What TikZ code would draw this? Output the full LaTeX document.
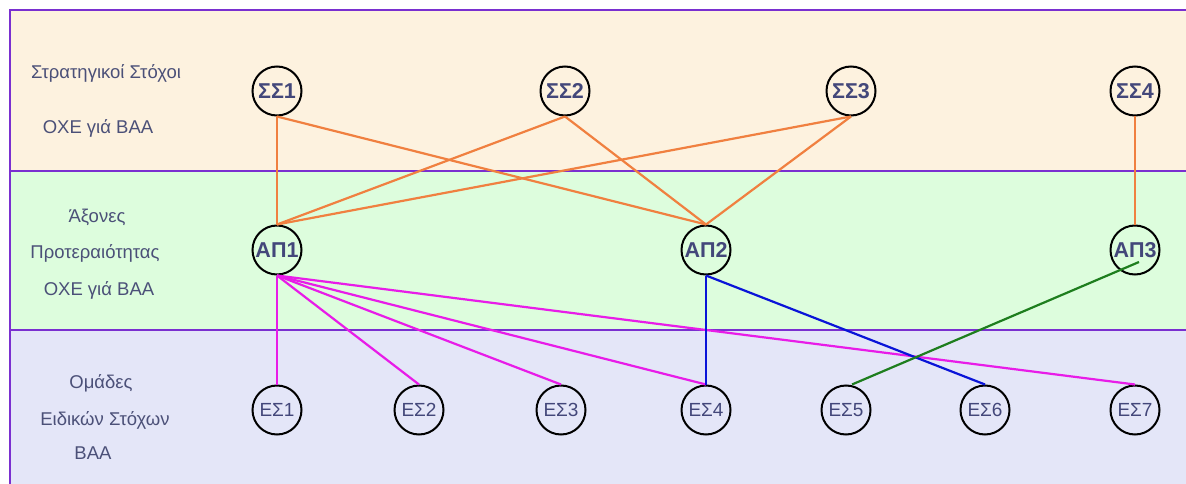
\documentclass[tikz,border=0pt]{standalone}
\usepackage{fontspec}
\setmainfont{Liberation Sans}
\definecolor{bandA}{HTML}{FDF2DF}
\definecolor{bandB}{HTML}{DDFDDD}
\definecolor{bandC}{HTML}{E4E6F8}
\definecolor{frame}{HTML}{7A2FD0}
\definecolor{lbl}{HTML}{4B5078}
\definecolor{ntxt}{HTML}{43477A}
\definecolor{cor}{HTML}{F08040}
\definecolor{cmag}{HTML}{E81CE8}
\definecolor{cblu}{HTML}{0A14D8}
\definecolor{cgrn}{HTML}{1E7E1E}
\tikzset{
  goal/.style={circle,draw=black,line width=2pt,minimum size=49pt,inner sep=0pt,text=ntxt,font=\fontsize{21.5}{24}\selectfont\bfseries},
  spec/.style={circle,draw=black,line width=2pt,minimum size=49pt,inner sep=0pt,text=ntxt,font=\fontsize{19}{22}\selectfont},
  side/.style={text=lbl,font=\fontsize{18.5}{21}\selectfont,anchor=center},
  lor/.style={cor,line width=2.2pt},
  lmag/.style={cmag,line width=2.2pt},
  lblu/.style={cblu,line width=2.2pt},
  lgrn/.style={cgrn,line width=2.2pt}
}
\begin{document}
\begin{tikzpicture}[x=1pt,y=-1pt]
\useasboundingbox (0,0) rectangle (1186,484);
\clip (0,0) rectangle (1186,484);
\fill[white] (0,0) rectangle (1186,484);
\fill[bandA] (10,10) rectangle (1190,171);
\fill[bandB] (10,171) rectangle (1190,330);
\fill[bandC] (10,330) rectangle (1190,490);
\draw[frame,line width=1.5pt] (10,490) -- (10,10) -- (1190,10);
\draw[frame,line width=1.2pt] (10,171) -- (1190,171);
\draw[frame,line width=1.2pt] (10,330) -- (1190,330);

\node[side] (t1) at (106,73) {Στρατηγικοί Στόχοι};
\node[side] (t2) at (98,128) {ΟΧΕ γιά ΒΑΑ};
\node[side] (t3) at (97,217) {Άξονες};
\node[side] (t4) at (95,253) {Προτεραιότητας};
\node[side] (t5) at (99,290) {ΟΧΕ γιά ΒΑΑ};
\node[side] (t6) at (101,383) {Ομάδες};
\node[side] (t7) at (105,420) {Ειδικών Στόχων};
\node[side] (t8) at (93,453) {ΒΑΑ};

\node[goal] (S1) at (277,91) {ΣΣ1};
\node[goal] (S2) at (565,91) {ΣΣ2};
\node[goal] (S3) at (851,91) {ΣΣ3};
\node[goal] (S4) at (1135,91) {ΣΣ4};
\node[goal] (A1) at (277,250) {ΑΠ1};
\node[goal] (A2) at (706,250) {ΑΠ2};
\node[goal] (A3) at (1135,250) {ΑΠ3};
\node[spec] (E1) at (277,410) {ΕΣ1};
\node[spec] (E2) at (419,410) {ΕΣ2};
\node[spec] (E3) at (561,410) {ΕΣ3};
\node[spec] (E4) at (706,410) {ΕΣ4};
\node[spec] (E5) at (846,410) {ΕΣ5};
\node[spec] (E6) at (985,410) {ΕΣ6};
\node[spec] (E7) at (1135,410) {ΕΣ7};

\draw[lor] (S1.south) -- (A1.north);
\draw[lor] (S1.south) -- (A2.north);
\draw[lor] (S2.south) -- (A1.north);
\draw[lor] (S2.south) -- (A2.north);
\draw[lor] (S3.south) -- (A1.north);
\draw[lor] (S3.south) -- (A2.north);
\draw[lor] (S4.south) -- (A3.north);

\draw[lmag] (A1.south) -- (E1.north);
\draw[lmag] (A1.south) -- (E2.north);
\draw[lmag] (A1.south) -- (E3.north);
\draw[lmag] (A1.south) -- (E4.north);
\draw[lmag] (A1.south) -- (E7.north);

\draw[lblu] (A2.south) -- (E4.north);
\draw[lblu] (A2.south) -- (E6.north);

\coordinate (g3) at ([xshift=4pt,yshift=-12pt]A3.center);
\coordinate (g5) at ([xshift=6pt]E5.north);
\draw[lgrn] (g3) -- (g5);
\end{tikzpicture}
\end{document}
